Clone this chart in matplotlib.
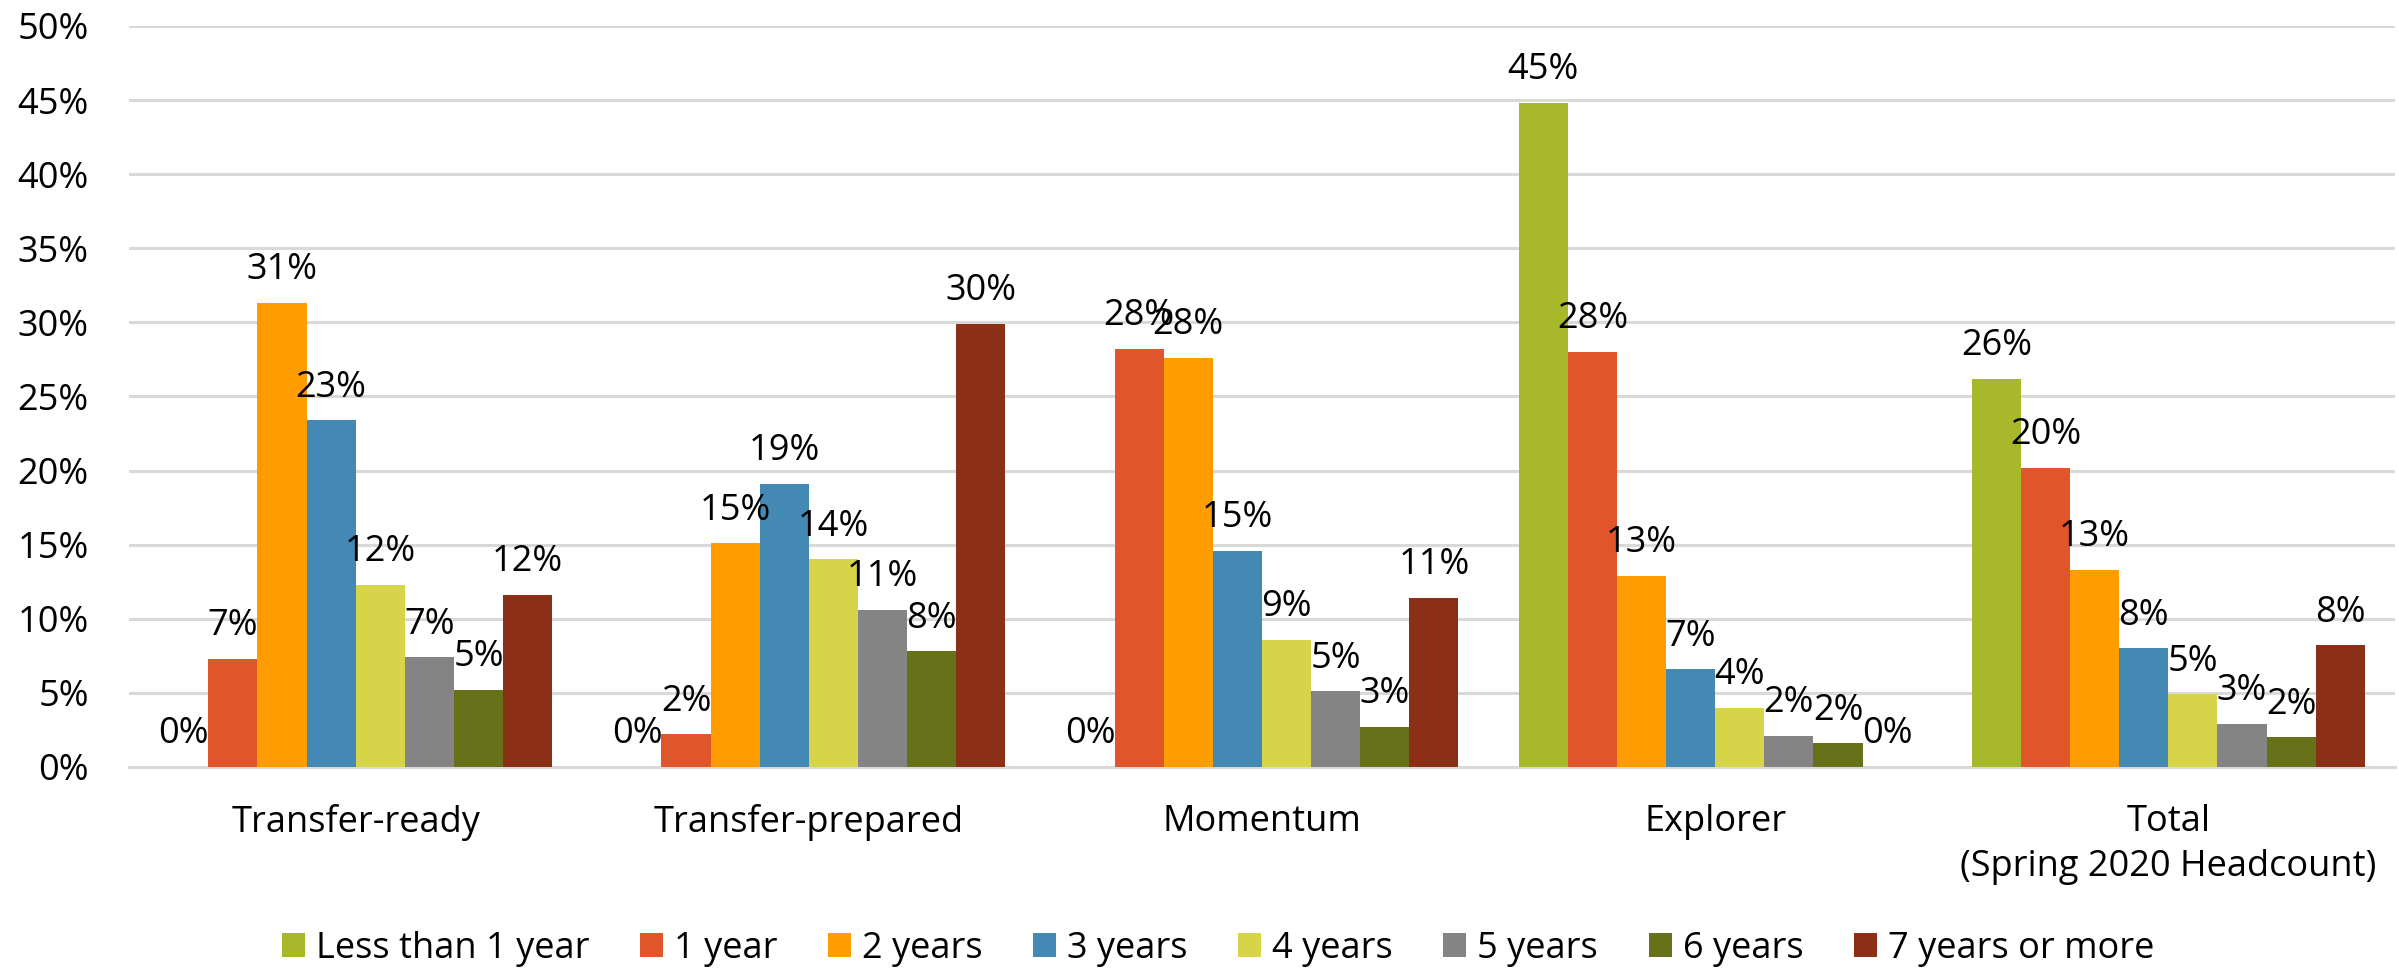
import numpy as np
import matplotlib
matplotlib.use('Agg')
import matplotlib.pyplot as plt
from matplotlib.ticker import FuncFormatter

plt.rcParams['font.family'] = ['Open Sans', 'DejaVu Sans']

categories = ['Transfer-ready', 'Transfer-prepared', 'Momentum', 'Explorer',
              'Total\n(Spring 2020 Headcount)']
series = ['Less than 1 year', '1 year', '2 years', '3 years',
          '4 years', '5 years', '6 years', '7 years or more']
colors = ['#A8B82B', '#E0552A', '#FF9D00', '#4389B3',
          '#D8D449', '#848484', '#677119', '#8B2F16']

# percent values per series, one per category
less_1 = [0.0, 0.0, 0.0, 44.8, 26.2]
yr_1 = [7.3, 2.2, 28.2, 28.0, 20.2]
yr_2 = [31.3, 15.1, 27.6, 12.9, 13.3]
yr_3 = [23.4, 19.1, 14.6, 6.6, 8.0]
yr_4 = [12.3, 14.0, 8.6, 4.0, 4.9]
yr_5 = [7.4, 10.6, 5.1, 2.1, 2.9]
yr_6 = [5.2, 7.8, 2.7, 1.6, 2.0]
yr_7 = [11.6, 29.9, 11.4, 0.0, 8.2]
values = [less_1, yr_1, yr_2, yr_3, yr_4, yr_5, yr_6, yr_7]

fig = plt.figure(figsize=(23.99, 9.69), dpi=100)
ax = fig.add_axes([0.0538, 0.2085, 0.9445, 0.7647])

x = np.arange(len(categories))
w = 0.1084
for j, (name, vals, c) in enumerate(zip(series, values, colors)):
    pos = x + (j - 3.5) * w
    ax.bar(pos, vals, w, color=c, label=name, zorder=3)
    for xp, v in zip(pos, vals):
        ax.annotate('%d%%' % round(v), (xp, v), xytext=(0, 17),
                    textcoords='offset points', ha='center', va='baseline',
                    fontsize=26, zorder=4)

ax.set_xlim(-0.5, 4.5)
ax.set_ylim(0, 50)
ax.set_yticks(np.arange(0, 51, 5))
ax.yaxis.set_major_formatter(FuncFormatter(lambda v, p: '%d%%' % v))
ax.set_xticks(x)
ax.set_xticklabels(categories, linespacing=1.3)
ax.tick_params(axis='y', length=0, pad=29, labelsize=26)
ax.tick_params(axis='x', length=0, pad=27, labelsize=26)
ax.grid(axis='y', color='#D9D9D9', linewidth=2.2, zorder=0)
for s in ['top', 'right', 'left']:
    ax.spines[s].set_visible(False)
ax.spines['bottom'].set_color('#D9D9D9')
ax.spines['bottom'].set_linewidth(2.2)

fig.legend(loc='center', bbox_to_anchor=(1218 / 2399, 1 - 949 / 969),
           ncol=8, frameon=False, fontsize=26, handlelength=0.64,
           handleheight=0.64, handletextpad=0.3, columnspacing=1.4)

fig.savefig('out.png', dpi=100)
